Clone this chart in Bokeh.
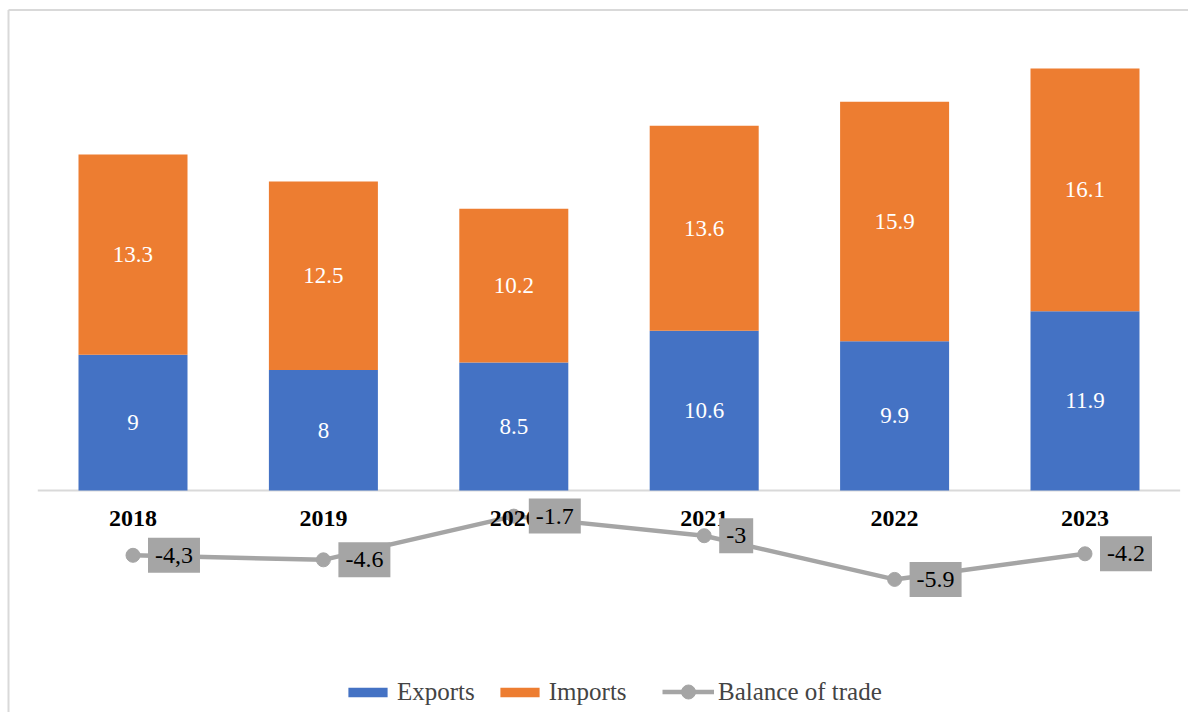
from bokeh.plotting import figure
from bokeh.models import Range1d, ColumnDataSource, Label, Legend, LegendItem
from bokeh.core.properties import value
from bokeh.embed import file_html
from bokeh.resources import INLINE

# ---- data ----
years = ["2018", "2019", "2020", "2021", "2022", "2023"]
exports = [9, 8, 8.5, 10.6, 9.9, 11.9]
imports = [13.3, 12.5, 10.2, 13.6, 15.9, 16.1]
balance = [-4.3, -4.6, -1.7, -3.0, -5.9, -4.2]
export_labels = ["9", "8", "8.5", "10.6", "9.9", "11.9"]
import_labels = ["13.3", "12.5", "10.2", "13.6", "15.9", "16.1"]
balance_labels = ["-4,3", "-4.6", "-1.7", "-3", "-5.9", "-4.2"]

BLUE = "#4472C4"
ORANGE = "#ED7D31"
GRAY = "#A5A5A5"
LIGHT = "#D9D9D9"
FONT = "Liberation Serif"

n = len(years)
xs = list(range(n))
XMIN, XMAX = -0.6959, 5.5436
YMIN, YMAX = -14.731, 32.515
XB, YT = -0.6539, 31.885   # chart frame border (left / top)

src = ColumnDataSource(dict(
    x=xs,
    years=years,
    exports=exports,
    imports=imports,
    exp_mid=[e / 2 for e in exports],
    imp_mid=[e + i / 2 for e, i in zip(exports, imports)],
    exp_lab=export_labels,
    imp_lab=import_labels,
    base=[0] * n,
    balance=balance,
))

p = figure(width=1188, height=712,
           x_range=Range1d(XMIN, XMAX), y_range=Range1d(YMIN, YMAX),
           x_axis_location=None, y_axis_location=None,
           output_backend="svg", toolbar_location=None, min_border=0)
p.grid.visible = False
p.outline_line_color = None
p.background_fill_color = "white"
p.border_fill_color = "white"

# chart border (left / top)
p.segment(x0=[XB, XB], x1=[XB, XMAX], y0=[YMIN, YT], y1=[YT, YT],
          line_color=LIGHT, line_width=2)

# baseline
p.segment(x0=-0.5, x1=n - 0.5, y0=0, y1=0, line_color=LIGHT, line_width=2)

bars = p.vbar_stack(["exports", "imports"], x="x", width=0.5725,
                    color=[BLUE, ORANGE], line_color=None, source=src)

p.text(x="x", y="exp_mid", text="exp_lab", source=src, text_color="white",
       text_font=value(FONT), text_font_size="23px",
       text_align="center", text_baseline="middle")
p.text(x="x", y="imp_mid", text="imp_lab", source=src, text_color="white",
       text_font=value(FONT), text_font_size="23px",
       text_align="center", text_baseline="middle")

line_r = p.line(x="x", y="balance", source=src, line_color=GRAY, line_width=4.5)
dot_r = p.scatter(x="x", y="balance", source=src, size=14, color=GRAY)

# category labels (drawn above the balance line)
p.text(x="x", y="base", text="years", source=src, text_color="black",
       text_font=value(FONT), text_font_size="24px", text_font_style="bold",
       text_align="center", text_baseline="middle", y_offset=28)

for xi, b, lab in zip(xs, balance, balance_labels):
    p.add_layout(Label(x=xi, y=b, text=lab, x_offset=15,
                       text_align="left", text_baseline="middle",
                       text_font=FONT, text_font_size="24px", text_color="black",
                       background_fill_color=GRAY,
                       padding=dict(left=7, right=7, top=10, bottom=10)))

common = dict(orientation="horizontal", padding=0, margin=0,
              border_line_color=None, background_fill_alpha=0,
              label_text_font=FONT, label_text_font_size="25px")

bar_legend = Legend(items=[
    LegendItem(label="Exports", renderers=[bars[0]]),
    LegendItem(label="Imports", renderers=[bars[1]]),
], location=(343, 6), glyph_width=49, glyph_height=12,
    label_standoff=5, spacing=20, **common)
p.add_layout(bar_legend)

line_legend = Legend(items=[
    LegendItem(label="Balance of trade", renderers=[line_r, dot_r]),
], location=(662, 3), glyph_width=52, glyph_height=35,
    label_standoff=4, **common)
p.add_layout(line_legend)

open("out.html", "w").write(file_html(p, INLINE))
